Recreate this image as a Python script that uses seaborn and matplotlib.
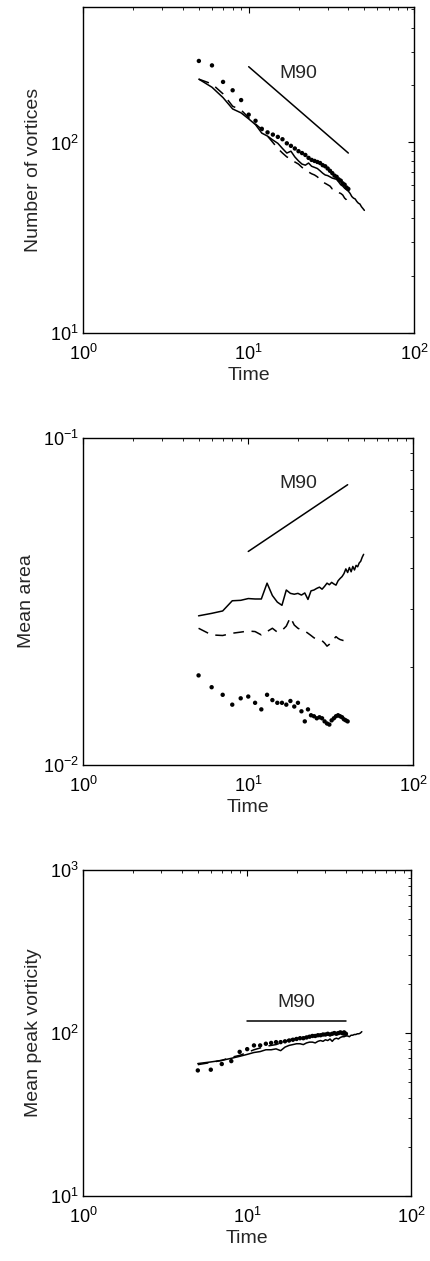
import numpy as np
import pandas as pd
import seaborn as sns
import matplotlib.pyplot as plt
from matplotlib.ticker import LogLocator, NullFormatter

# tempos (inteiros)
t_solid = list(range(5, 51))
t_dash = list(range(5, 41))
t_dots = list(range(5, 41))

# painel 1: numero de vortices
n_solid = [215, 195, 172, 150, 143, 133, 124, 112, 108, 103, 99, 93, 88, 90, 84, 80,
           77, 76, 78, 75, 74, 73, 71, 69, 67.5, 67, 66, 65, 64.5, 64, 62, 60, 59, 57.5,
           56.5, 55.5, 54, 52, 51, 50.5, 49, 48, 47.5, 46, 45, 44]
n_dash = [215, 203, 180, 155, 148, 135, 125, 117, 108, 100, 93, 88, 84, 82, 79, 77,
          74, 72, 70, 68.5, 67.5, 66, 64, 62, 61, 60, 59, 57, 56.5, 55, 54.5, 54, 53,
          51, 50, 48]
n_dots = [268, 254, 208, 188, 167, 140, 130, 118, 113, 110, 107, 104, 99, 96, 93, 90,
          88, 86, 83, 81, 80, 79, 78, 76, 75, 73, 71, 69, 67, 66, 64, 63, 61, 60, 58, 57]

# painel 2: area media
a_solid = [0.0286, 0.0291, 0.0296, 0.0318, 0.0319, 0.0323, 0.0322, 0.0322, 0.0360,
           0.0330, 0.0315, 0.0308, 0.0343, 0.0335, 0.0333, 0.0335, 0.0331, 0.0336,
           0.0321, 0.0341, 0.0343, 0.0347, 0.0350, 0.0345, 0.0352, 0.0360, 0.0356,
           0.0362, 0.0358, 0.0355, 0.0366, 0.0372, 0.0377, 0.0385, 0.0398, 0.0388,
           0.0402, 0.0390, 0.0405, 0.0395, 0.0408, 0.0404, 0.0415, 0.0420, 0.0432,
           0.0441]
a_dash = [0.0262, 0.0250, 0.0249, 0.0253, 0.0255, 0.0257, 0.0256, 0.0250, 0.0256,
          0.0262, 0.0255, 0.0258, 0.0266, 0.0283, 0.0268, 0.0262, 0.0259, 0.0257,
          0.0253, 0.0249, 0.0245, 0.0243, 0.0241, 0.0240, 0.0236, 0.0231, 0.0234,
          0.0238, 0.0243, 0.0247, 0.0244, 0.0242, 0.0241, 0.0240, 0.0239, 0.0238]
a_dots = [0.0188, 0.0173, 0.0164, 0.0153, 0.0160, 0.0162, 0.0155, 0.0148, 0.0164,
          0.0158, 0.0155, 0.0155, 0.0153, 0.0157, 0.0151, 0.0155, 0.0146, 0.0136,
          0.0148, 0.0142, 0.0141, 0.0139, 0.0140, 0.0139, 0.0136, 0.0134, 0.0133,
          0.0137, 0.0139, 0.0141, 0.0142, 0.0141, 0.0140, 0.0138, 0.0137, 0.0136]

# painel 3: vorticidade de pico media
w_solid = [65, 66.5, 68, 70, 72, 74, 76, 77, 79, 79, 80, 78, 82, 84, 85, 86, 86, 85,
           87, 88, 88, 87, 89, 90, 89, 91, 90, 92, 89, 92, 93, 92, 94, 95, 95, 96, 96,
           95, 97, 97, 98, 98, 99, 99, 100, 102]
w_dash = [64, 66, 68, 71, 73, 76, 79, 81, 83, 84, 85, 87, 89, 91, 92, 93, 94, 94, 95,
          96, 97, 97, 98, 99, 98, 99, 97, 98, 99, 96, 98, 99, 100, 98, 97, 99]
w_dots = [59, 59.6, 64.6, 67.3, 76.7, 79.7, 84, 84, 86, 87, 88, 88, 89, 90, 91, 92,
          93, 93, 94, 95, 96, 96, 97, 97, 98, 98, 99, 98, 99, 100, 99, 100, 101, 100,
          101, 99]

# retas de referencia M90
m90_t = [10, 40]
m90_n = [250, 88]
m90_a = [0.045, 0.072]
m90_w = [119, 119]

sns.set_theme(style="white")
plt.rcParams['font.family'] = ['Liberation Sans', 'DejaVu Sans']
plt.rcParams['mathtext.fontset'] = 'custom'
plt.rcParams['mathtext.rm'] = 'Liberation Sans'
plt.rcParams['mathtext.it'] = 'Liberation Sans'

fig = plt.figure(figsize=(4.31, 12.61), dpi=100)

paineis = [
    ([0.193, 0.736, 0.768, 0.2585], n_solid, n_dash, n_dots, m90_n, (10, 515),
     'Number of vortices', (20, 231)),
    ([0.193, 0.3933, 0.766, 0.2593], a_solid, a_dash, a_dots, m90_a, (0.01, 0.1),
     'Mean area', (20, 0.0728)),
    ([0.193, 0.0515, 0.761, 0.2585], w_solid, w_dash, w_dots, m90_w, (10, 1000),
     'Mean peak vorticity', (20, 153)),
]

for pos, ys, yd, yp, ym, ylim, rotulo, txt in paineis:
    ax = fig.add_axes(pos)
    ax.set_xscale('log')
    ax.set_yscale('log')

    sns.lineplot(x=t_solid, y=ys, ax=ax, color='black', lw=1.1,
                 sort=False, estimator=None)
    sns.lineplot(x=t_dash, y=yd, ax=ax, color='black', lw=1.1,
                 linestyle=(0, (7, 5)), sort=False, estimator=None)
    sns.scatterplot(x=t_dots, y=yp, ax=ax, color='black', s=10,
                    edgecolor='none')
    sns.lineplot(x=m90_t, y=ym, ax=ax, color='black', lw=1.1,
                 sort=False, estimator=None)
    ax.text(txt[0], txt[1], 'M90', fontsize=14, ha='center', va='center')

    ax.set_xlim(1, 100)
    ax.set_ylim(*ylim)
    for eixo in (ax.xaxis, ax.yaxis):
        eixo.set_major_locator(LogLocator(base=10, numticks=10))
        eixo.set_minor_locator(LogLocator(base=10, subs=np.arange(2, 10), numticks=20))
        eixo.set_minor_formatter(NullFormatter())
    ax.tick_params(which='both', direction='in', top=True, right=True,
                   colors='black', labelsize=13)
    ax.tick_params(which='major', length=4, width=0.8)
    ax.tick_params(which='minor', length=2, width=0.6)
    ax.tick_params(axis='x', pad=8)
    ax.tick_params(axis='y', pad=3)
    for sp in ax.spines.values():
        sp.set_color('black')
        sp.set_linewidth(1.0)

    ax.set_xlabel('Time', fontsize=14, labelpad=2)
    ax.set_ylabel(rotulo, fontsize=14, labelpad=6)

fig.savefig('out.png', dpi=100)
